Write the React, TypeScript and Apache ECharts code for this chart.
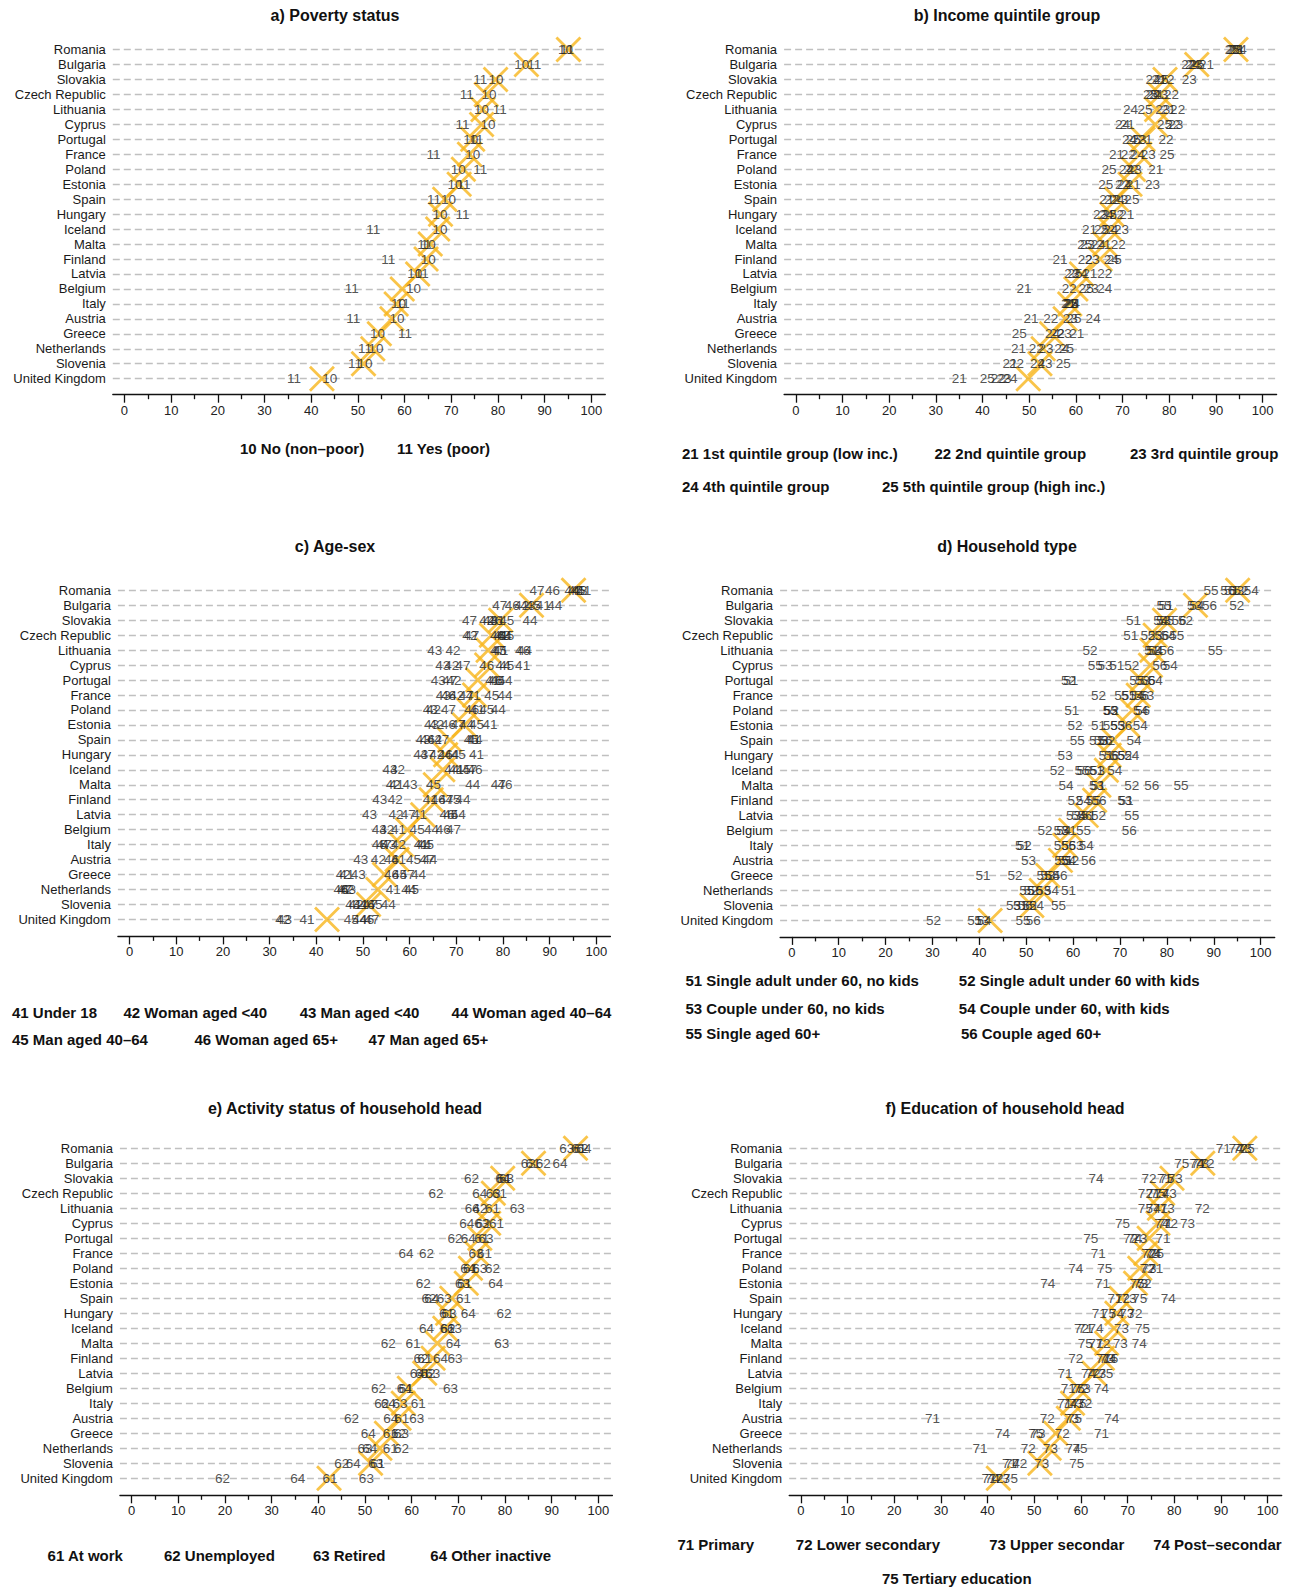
import React, { useEffect, useRef } from "react";
import * as echarts from "echarts";

const countries = [
  "Romania", "Bulgaria", "Slovakia", "Czech Republic", "Lithuania", "Cyprus", "Portugal",
  "France", "Poland", "Estonia", "Spain", "Hungary", "Iceland", "Malta", "Finland", "Latvia",
  "Belgium", "Italy", "Austria", "Greece", "Netherlands", "Slovenia", "United Kingdom",
];

const tickValues = [0, 10, 20, 30, 40, 50, 60, 70, 80, 90, 100];
const minorTickValues = [5, 15, 25, 35, 45, 55, 65, 75, 85, 95];

// overall rate (orange X)
const overall = [95.1, 86.1, 79.5, 77.5, 76.8, 76.5, 74.6, 73.9, 72.6, 71.7, 68.6, 67.7, 67.1, 65.5, 64.6, 62.8, 59.5, 58.2, 57.3, 54.6, 53.2, 51.2, 42.3];
const overallIncome = [94.3, 85.9, 79.1, 78.0, 77.3, 77.0, 74.4, 73.7, 72.3, 71.6, 68.7, 67.7, 67.3, 66.2, 65.2, 61.2, 60.0, 58.7, 57.7, 54.8, 53.0, 52.3, 49.8];

// a) Poverty status
const pov10 = [94.5, 85.1, 79.6, 78.1, 76.5, 77.9, 74.2, 74.6, 71.5, 70.8, 69.4, 67.6, 67.6, 65.1, 65.1, 62.2, 61.9, 58.7, 58.4, 54.2, 53.9, 51.5, 44.0];
const pov11 = [94.8, 87.8, 76.2, 73.3, 80.4, 72.4, 75.4, 66.2, 76.2, 72.6, 66.3, 72.4, 53.3, 64.2, 56.5, 63.7, 48.7, 59.6, 49.0, 60.1, 51.5, 49.4, 36.3];

// b) Income quintile group
const inc21 = [94.5, 88.0, 77.8, 77.3, 79.8, 71.0, 74.8, 68.7, 77.1, 72.3, 66.6, 70.9, 62.9, 66.0, 56.6, 63.0, 48.9, 58.4, 50.4, 60.2, 47.7, 45.9, 35.0];
const inc22 = [93.8, 84.2, 79.5, 80.5, 81.8, 80.8, 79.3, 71.2, 71.8, 70.0, 67.7, 68.7, 66.8, 69.1, 62.0, 66.2, 58.6, 58.7, 54.6, 56.0, 51.5, 47.3, 43.4];
const inc23 = [94.2, 85.5, 84.3, 78.2, 78.6, 81.4, 73.5, 75.5, 72.5, 76.4, 69.6, 65.3, 69.8, 62.5, 63.5, 59.1, 63.3, 59.0, 58.8, 57.5, 53.6, 53.4, 44.6];
const inc24 = [95.0, 85.0, 76.5, 76.6, 71.7, 70.0, 71.5, 73.2, 70.8, 70.4, 68.8, 66.5, 67.5, 64.8, 67.6, 61.0, 66.2, 59.3, 63.7, 55.0, 57.0, 51.8, 45.9];
const inc25 = [93.5, 86.0, 78.3, 76.0, 74.8, 79.0, 72.3, 79.5, 67.1, 66.4, 72.0, 67.2, 65.5, 61.9, 68.2, 59.8, 62.2, 58.9, 59.6, 47.9, 58.0, 57.3, 41.0];

// c) Age-sex
const age41 = [97.3, 88.6, 78.8, 79.5, 79.5, 84.2, 77.8, 73.6, 74.5, 77.2, 73.6, 74.3, 70.0, 57.2, 64.4, 62.1, 57.6, 62.5, 57.6, 46.5, 56.5, 49.5, 38.0];
const age42 = [95.5, 84.0, 76.5, 72.9, 69.3, 69.0, 69.5, 70.1, 65.1, 65.8, 65.3, 65.8, 57.4, 56.5, 56.9, 57.1, 55.1, 57.6, 53.3, 45.8, 46.4, 48.5, 32.8];
const age43 = [96.5, 85.3, 77.3, 80.0, 65.4, 67.1, 66.1, 67.2, 64.4, 64.7, 62.9, 62.4, 55.8, 60.1, 53.6, 51.4, 53.5, 55.5, 49.5, 49.0, 46.9, 47.8, 33.2];
const age44 = [94.8, 91.1, 85.8, 80.3, 84.6, 80.0, 80.4, 80.4, 79.0, 72.2, 74.0, 69.0, 69.0, 73.5, 71.4, 70.4, 64.7, 63.0, 64.3, 61.9, 59.8, 55.4, 49.3];
const age45 = [96.0, 86.5, 80.8, 80.8, 79.2, 80.8, 78.8, 77.6, 76.5, 74.3, 73.2, 70.4, 71.5, 65.1, 69.3, 68.8, 61.6, 63.6, 60.8, 57.8, 60.4, 52.6, 47.5];
const age46 = [90.6, 82.0, 78.3, 78.8, 84.2, 76.5, 78.3, 68.3, 73.3, 68.3, 63.8, 67.6, 74.0, 80.4, 66.1, 68.0, 67.2, 53.5, 56.1, 56.1, 45.3, 50.9, 50.8];
const age47 = [87.3, 79.3, 72.8, 73.3, 78.8, 71.4, 68.6, 72.1, 68.3, 70.4, 66.9, 63.8, 72.8, 79.0, 67.8, 59.7, 69.4, 54.5, 63.7, 59.5, 46.0, 51.5, 51.9];

// d) Household type
const hh51 = [93.8, 79.8, 72.9, 72.3, 76.8, 69.3, 59.5, 71.8, 59.7, 65.4, 65.0, 67.0, 65.0, 65.3, 71.3, 63.3, 59.2, 49.2, 58.4, 40.8, 59.0, 48.8, 39.0];
const hh52 = [95.8, 94.9, 84.0, 76.0, 63.6, 72.5, 59.0, 65.4, 68.2, 60.4, 67.4, 71.0, 56.6, 72.5, 60.4, 65.4, 54.0, 49.6, 59.7, 47.6, 51.0, 50.7, 30.2];
const hh53 = [94.9, 85.9, 79.3, 77.5, 77.2, 66.8, 74.8, 75.7, 68.0, 69.5, 66.0, 58.3, 65.2, 65.0, 71.0, 60.1, 57.4, 60.6, 50.5, 54.6, 53.7, 47.3, 40.5];
const hh54 = [98.0, 86.4, 78.7, 80.3, 77.6, 80.7, 77.5, 73.5, 74.4, 74.3, 73.0, 72.5, 68.9, 58.5, 62.2, 61.2, 58.0, 62.8, 59.0, 55.6, 55.4, 52.2, 41.0];
const hh55 = [89.4, 79.4, 80.0, 82.1, 90.3, 64.7, 73.6, 70.4, 67.9, 67.9, 60.9, 69.5, 61.9, 83.0, 64.3, 72.5, 62.2, 57.5, 57.6, 53.8, 50.1, 56.9, 49.3];
const hh56 = [93.0, 89.1, 82.6, 78.9, 80.0, 78.5, 76.0, 74.6, 74.8, 71.0, 66.8, 68.2, 62.3, 76.8, 65.5, 62.5, 72.0, 59.0, 63.3, 57.2, 51.9, 49.8, 51.5];

// e) Activity status of household head
const act61 = [95.8, 86.0, 79.8, 78.8, 77.3, 78.2, 75.0, 75.6, 72.6, 71.3, 71.1, 67.5, 67.6, 60.3, 62.8, 62.3, 58.8, 61.4, 57.9, 55.4, 55.4, 52.7, 42.5];
const act62 = [96.3, 88.2, 72.8, 65.2, 74.6, 75.3, 69.3, 63.2, 77.3, 62.5, 63.7, 79.8, 67.8, 55.0, 62.0, 63.5, 52.9, 53.6, 47.1, 57.2, 57.8, 45.0, 19.5];
const act63 = [93.2, 85.0, 80.3, 77.5, 82.6, 75.0, 75.9, 73.8, 74.6, 70.9, 67.0, 68.0, 69.2, 79.3, 69.3, 64.5, 68.3, 57.5, 61.1, 57.8, 50.0, 52.3, 50.3];
const act64 = [96.9, 91.8, 79.5, 74.6, 73.0, 71.8, 72.1, 58.8, 72.0, 78.0, 64.3, 72.1, 63.2, 68.9, 66.2, 61.2, 58.4, 55.0, 55.5, 50.7, 51.0, 47.5, 35.6];

// f) Education of household head
const edu71 = [90.5, 85.2, 77.9, 75.5, 77.0, 78.0, 77.6, 63.7, 76.0, 64.6, 67.3, 63.9, 61.0, 63.2, 64.8, 56.6, 57.3, 56.5, 28.2, 64.4, 38.4, 44.7, 40.3];
const edu72 = [94.2, 87.0, 74.6, 73.8, 86.0, 79.2, 70.6, 74.5, 74.2, 73.5, 68.9, 71.6, 60.1, 64.7, 58.9, 62.6, 60.0, 60.8, 52.8, 56.0, 48.7, 46.9, 41.8];
const edu73 = [95.0, 85.8, 80.2, 78.9, 78.5, 82.8, 72.6, 75.2, 74.6, 72.8, 70.3, 69.8, 68.7, 68.4, 65.5, 63.8, 60.5, 59.0, 58.0, 50.8, 53.5, 51.6, 43.2];
const edu74 = [93.2, 84.8, 63.2, 77.3, 75.5, 77.3, 71.5, 75.6, 58.9, 52.9, 78.7, 67.6, 63.2, 72.5, 66.0, 61.6, 64.4, 57.6, 66.6, 43.2, 58.3, 45.3, 41.0];
const edu75 = [95.6, 81.6, 78.4, 76.5, 73.8, 68.9, 62.1, 76.2, 65.1, 72.0, 72.6, 65.9, 73.2, 60.9, 66.4, 65.3, 59.2, 59.6, 58.6, 50.3, 59.8, 59.1, 44.9];

const FONT = "'Liberation Sans', Arial, sans-serif";
const ORANGE = "#F8B51C";

type Panel = {
  title: string;
  tx: number;
  ty: number;
  grid: { left: number; top: number; width: number; height: number };
  offset: number;
  overall: number[];
  groups: [string, number[]][];
  legend: [string, number, number][];
};

const panels: Panel[] = [
  {
    title: "a) Poverty status", tx: 335, ty: 15,
    grid: { left: 112.8, top: 49.6, width: 492.5, height: 329.1 }, offset: 16,
    overall: overall,
    groups: [["10", pov10], ["11", pov11]],
    legend: [["10 No (non\u2013poor)", 240, 448.5], ["11 Yes (poor)", 397, 448.5]],
  },
  {
    title: "b) Income quintile group", tx: 1007, ty: 15,
    grid: { left: 784.1, top: 49.6, width: 492.5, height: 329.1 }, offset: 16,
    overall: overallIncome,
    groups: [["21", inc21], ["22", inc22], ["23", inc23], ["24", inc24], ["25", inc25]],
    legend: [
      ["21 1st quintile group (low inc.)", 682, 453.6],
      ["22 2nd quintile group", 934.5, 453.6],
      ["23 3rd quintile group", 1130, 453.6],
      ["24 4th quintile group", 682, 486],
      ["25 5th quintile group (high inc.)", 882, 486],
    ],
  },
  {
    title: "c) Age-sex", tx: 335, ty: 546,
    grid: { left: 117.9, top: 590.3, width: 492.5, height: 329.1 }, offset: 17,
    overall: overall,
    groups: [["41", age41], ["42", age42], ["43", age43], ["44", age44], ["45", age45], ["46", age46], ["47", age47]],
    legend: [
      ["41 Under 18", 12, 1012.5],
      ["42 Woman aged <40", 123.5, 1012.5],
      ["43 Man aged <40", 299.7, 1012.5],
      ["44 Woman aged 40\u201364", 451.6, 1012.5],
      ["45 Man aged 40\u201364", 12, 1039.8],
      ["46 Woman aged 65+", 194.4, 1039.8],
      ["47 Man aged 65+", 368.6, 1039.8],
    ],
  },
  {
    title: "d) Household type", tx: 1007, ty: 546,
    grid: { left: 780.1, top: 590.3, width: 494.6, height: 330.1 }, offset: 16.5,
    overall: overall,
    groups: [["51", hh51], ["52", hh52], ["53", hh53], ["54", hh54], ["55", hh55], ["56", hh56]],
    legend: [
      ["51 Single adult under 60, no kids", 685.5, 980],
      ["52 Single adult under 60 with kids", 958.8, 980],
      ["53 Couple under 60, no kids", 685.5, 1008.5],
      ["54 Couple under 60, with kids", 958.8, 1008.5],
      ["55 Single aged 60+", 685.5, 1033.8],
      ["56 Couple aged 60+", 960.9, 1033.8],
    ],
  },
  {
    title: "e) Activity status of household head", tx: 345, ty: 1108.7,
    grid: { left: 119.9, top: 1148.2, width: 492.5, height: 330.1 }, offset: 17,
    overall: overall,
    groups: [["61", act61], ["62", act62], ["63", act63], ["64", act64]],
    legend: [
      ["61 At work", 47.6, 1555.2],
      ["62 Unemployed", 164, 1555.2],
      ["63 Retired", 312.9, 1555.2],
      ["64 Other inactive", 430.3, 1555.2],
    ],
  },
  {
    title: "f) Education of household head", tx: 1005, ty: 1108.7,
    grid: { left: 789.2, top: 1148.2, width: 492.5, height: 330.1 }, offset: 17,
    overall: overall,
    groups: [["71", edu71], ["72", edu72], ["73", edu73], ["74", edu74], ["75", edu75]],
    legend: [
      ["71 Primary", 677.4, 1544],
      ["72 Lower secondary", 795.8, 1544],
      ["73 Upper secondar", 989.2, 1544],
      ["74 Post\u2013secondar", 1153.2, 1544],
      ["75 Tertiary education", 881.9, 1578.5],
    ],
  },
];

function buildOption() {
  const grid: any[] = [];
  const xAxis: any[] = [];
  const yAxis: any[] = [];
  const series: any[] = [];
  const graphic: any[] = [];

  panels.forEach((p, i) => {
    grid.push({ ...p.grid, containLabel: false, outerBoundsMode: "none" });
    xAxis.push({
      type: "value", gridIndex: i, min: -2.5, max: 103, position: "bottom", offset: p.offset,
      axisLine: { show: true, onZero: false, lineStyle: { color: "#111", width: 1.3 } },
      axisTick: { show: true, customValues: tickValues, length: 8, lineStyle: { color: "#111", width: 1.3 } },
      axisLabel: { show: true, customValues: tickValues, margin: 9, fontSize: 13, color: "#222", fontFamily: FONT },
      splitLine: { show: false },
    });
    xAxis.push({
      type: "value", gridIndex: i, min: -2.5, max: 103, position: "bottom", offset: p.offset,
      axisLine: { show: false, onZero: false },
      axisTick: { show: true, customValues: minorTickValues, length: 4.5, lineStyle: { color: "#111", width: 1.3 } },
      axisLabel: { show: false },
      splitLine: { show: false },
    });
    yAxis.push({
      type: "category", gridIndex: i, data: countries, inverse: true, boundaryGap: false,
      axisLine: { show: false }, axisTick: { show: false },
      axisLabel: { interval: 0, margin: 7, fontSize: 13, color: "#1a1a1a", fontFamily: FONT },
      splitLine: { show: true, interval: 0, lineStyle: { color: "#c0c0c0", type: [7, 4], width: 1.3 } },
    });
    series.push({
      type: "scatter", xAxisIndex: 2 * i, yAxisIndex: i, clip: false, silent: true, z: 2,
      symbol: "path://M0 0L10 10M10 0L0 10", symbolSize: 24,
      itemStyle: { color: "none", borderColor: ORANGE, borderWidth: 2.8 },
      data: countries.map((_, k) => [p.overall[k], k]),
    });
    p.groups.forEach(([code, vals]) => {
      series.push({
        type: "scatter", xAxisIndex: 2 * i, yAxisIndex: i, clip: false, silent: true, z: 3,
        symbolSize: 1, itemStyle: { color: "rgba(0,0,0,0)" },
        label: { show: true, position: "inside", formatter: code, color: "#262626", fontSize: 13.5, fontFamily: FONT },
        data: countries.map((_, k) => [vals[k], k]),
      });
    });
    graphic.push({
      type: "text", x: p.tx, y: p.ty, silent: true,
      style: { text: p.title, font: `bold 16px ${FONT}`, fill: "#111", align: "center", verticalAlign: "middle" },
    });
    p.legend.forEach(([t, x, y]) => {
      graphic.push({
        type: "text", x, y, silent: true,
        style: { text: t, font: `bold 15px ${FONT}`, fill: "#111", align: "left", verticalAlign: "middle" },
      });
    });
  });

  return { animation: false, backgroundColor: "#fff", grid, xAxis, yAxis, series, graphic };
}

export default function App() {
  const ref = useRef<HTMLDivElement>(null);
  useEffect(() => {
    if (!ref.current) return;
    const chart = echarts.init(ref.current, undefined, { renderer: "svg" });
    chart.setOption(buildOption() as any);
    return () => chart.dispose();
  }, []);
  return (
    <div
      ref={ref}
      style={{ position: "absolute", left: 0, top: 0, width: 1296, height: 1588, background: "#fff" }}
    />
  );
}
